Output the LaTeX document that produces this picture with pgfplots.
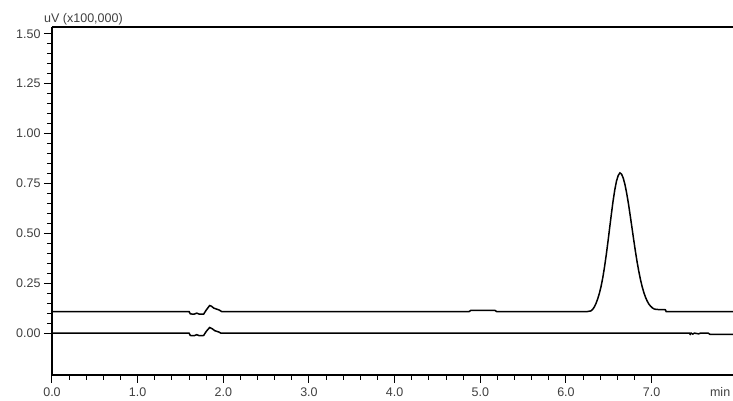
\documentclass[border=0pt]{standalone}
\usepackage{pgfplots}
\pgfplotsset{compat=1.18}
\usepackage{fontspec}
\setmainfont{Liberation Sans}
\begin{document}
\begin{tikzpicture}
\begin{axis}[
  scale only axis,
  width=681pt, height=348pt,
  xmin=0, xmax=7.95,
  ymin=-0.21, ymax=1.534,
  axis lines*=left,
  axis line style={line width=1.3pt, black},
  tick align=outside,
  major tick length=8pt,
  minor tick length=5pt,
  every tick/.style={black, line width=1pt},
  xtick={0,1,2,3,4,5,6,7},
  xticklabels={0.0,1.0,2.0,3.0,4.0,5.0,6.0,7.0},
  minor x tick num=4,
  extra x ticks={7.80},
  extra x tick labels={min},
  extra x tick style={every major tick/.append style={draw=none}},
  ytick={0,0.25,0.5,0.75,1,1.25,1.5},
  yticklabels={0.00,0.25,0.50,0.75,1.00,1.25,1.50},
  minor y tick num=4,
  tick label style={font=\fontsize{12.5}{14}\selectfont, text=black!75},
  xticklabel style={text height=9pt, yshift=-1pt},
  clip=false,
]
\draw[line width=1.3pt] (rel axis cs:0,1) -- (rel axis cs:1,1);
\node[anchor=base west, font=\fontsize{12.5}{14}\selectfont, text=black!75, inner sep=0pt] at (rel axis cs:0,1) [xshift=-8pt, yshift=4pt] {uV (x100,000)};
% upper trace
\addplot[black, line width=1.5pt] coordinates {
(0,0.108) (1.600,0.108) (1.615,0.096) (1.66,0.095) (1.69,0.100) (1.72,0.095) (1.77,0.095)
(1.80,0.115) (1.84,0.138) (1.86,0.135) (1.89,0.125) (1.95,0.116) (1.98,0.108)
(4.87,0.108) (4.89,0.114) (5.17,0.114) (5.19,0.108)
(6.25,0.108) (6.29,0.111) (6.31,0.118) (6.33,0.130) (6.35,0.148) (6.37,0.171) (6.39,0.199)
(6.41,0.234) (6.43,0.278) (6.45,0.331) (6.47,0.391) (6.49,0.457) (6.51,0.527) (6.53,0.596)
(6.55,0.662) (6.57,0.718) (6.59,0.762) (6.61,0.790) (6.63,0.803) (6.65,0.796) (6.67,0.775)
(6.69,0.742) (6.71,0.698) (6.73,0.647) (6.75,0.589) (6.77,0.530) (6.79,0.470) (6.81,0.412)
(6.83,0.358) (6.85,0.310) (6.87,0.268) (6.89,0.232) (6.91,0.202) (6.93,0.178) (6.95,0.159)
(6.97,0.144) (6.99,0.134) (7.01,0.126) (7.03,0.121) (7.05,0.119) (7.08,0.118) (7.16,0.117)
(7.17,0.108) (7.95,0.108)
};
% lower trace
\addplot[black, line width=1.5pt] coordinates {
(0,0) (1.600,0) (1.615,-0.012) (1.66,-0.013) (1.69,-0.008) (1.72,-0.013) (1.77,-0.012)
(1.80,0.008) (1.84,0.028) (1.87,0.022) (1.90,0.012) (1.95,0.005) (1.97,0)
(7.44,0) (7.45,-0.006) (7.46,0) (7.48,-0.005) (7.50,0) (7.55,-0.004) (7.57,0)
(7.66,0) (7.68,-0.006) (7.95,-0.006)
};
\end{axis}
\pgfresetboundingbox
\path (-52pt,-26pt) rectangle (681pt,375pt);
\end{tikzpicture}
\end{document}
